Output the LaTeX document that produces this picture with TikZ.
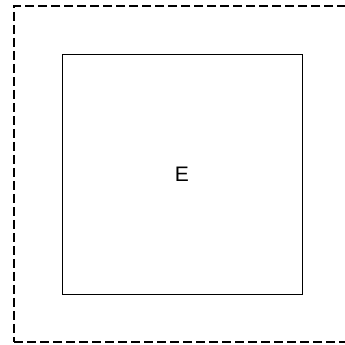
\documentclass[tikz,border=0pt]{standalone}
\usepackage{fontspec}
\setmainfont{Liberation Sans}
\usetikzlibrary{positioning}

\begin{document}
\begin{tikzpicture}[
    x=1pt, y=1pt,
    env/.style={draw, line width=2.6pt, dash pattern=on 9pt off 4pt, minimum size=336pt, inner sep=0pt},
    block/.style={draw, line width=0.9pt, minimum size=240pt, inner sep=0pt, font=\fontsize{21}{25}\selectfont}
  ]
    \useasboundingbox (0,0) rectangle (345,345);
    \node[block] (e) at (182,171) {E};
    \node[env] (outer) at (e.center) {};
  \end{tikzpicture}
\end{document}
